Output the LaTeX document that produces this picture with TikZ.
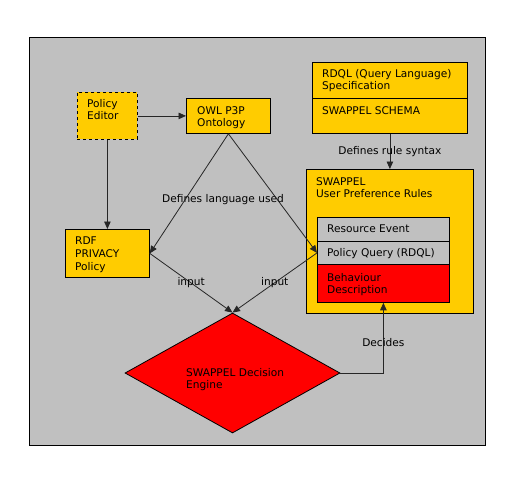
\documentclass[tikz,border=0pt]{standalone}
\usepackage{fontspec}
\setmainfont{DejaVu Sans}
\usepackage{tikz}
\usetikzlibrary{arrows.meta,shapes.geometric}
\definecolor{bggray}{HTML}{C0C0C0}
\definecolor{gold}{HTML}{FFCC00}
\definecolor{hot}{HTML}{FF0000}

\begin{document}
\begin{tikzpicture}
[x=1pt,y=-1pt
,bx/.style={draw,fill=gold,anchor=north west,inner sep=0pt,line width=0.8pt}
,rbx/.style={bx,fill=hot}
,gbx/.style={bx,fill=bggray}
,txt/.style={anchor=north west,inner sep=0pt,align=left,font=\fontsize{10.6}{12.7}\selectfont}
,lbl/.style={inner sep=1pt,font=\fontsize{10.6}{12}\selectfont}
,ar/.style={draw=black!85,line width=0.8pt,arrows={-Triangle[length=7.5pt,width=6.5pt]}}
]
\useasboundingbox (0,0) rectangle (520,480);
\fill[bggray,draw=black,line width=0.8pt] (29,37) rectangle (485,445);
% boxes
\node[bx,dashed,minimum width=60,minimum height=47] (editor) at (77,92) {};
\node[bx,minimum width=84,minimum height=35] (owl) at (186,98) {};
\node[bx,minimum width=155,minimum height=36] (rdql) at (312,62) {};
\node[bx,minimum width=155,minimum height=35] (schema) at (312,98) {};
\node[bx,minimum width=167,minimum height=144] (rules) at (306,169) {};
\node[gbx,minimum width=132,minimum height=24] (event) at (317,217) {};
\node[gbx,minimum width=132,minimum height=23] (query) at (317,241) {};
\node[rbx,minimum width=132,minimum height=38] (behaviour) at (317,264) {};
\node[bx,minimum width=84,minimum height=48] (rdf) at (65,229) {};
\node[diamond,draw,fill=hot,line width=0.8pt,inner sep=0pt,minimum width=215,minimum height=120] (engine) at (232.5,373) {};
% texts
\node[txt] at (87,99) {Policy\\Editor};
\node[txt] at (197,106) {OWL P3P\\Ontology};
\node[txt] at (322,69) {RDQL (Query Language)\\Specification};
\node[txt] at (322,106) {SWAPPEL SCHEMA};
\node[txt] at (316,177) {SWAPPEL\\User Preference Rules};
\node[txt] at (327,225) {Resource Event};
\node[txt] at (327,248) {Policy Query (RDQL)};
\node[txt] at (327,273) {Behaviour\\Description};
\node[txt] at (75,237) {RDF\\PRIVACY\\Policy};
\node[txt] at (186,368) {SWAPPEL Decision\\Engine};
\node[lbl] (deflang) at (223,200) {Defines language used};
% connectors
\draw[ar] (editor) -- (owl);
\draw[ar] (editor) -- (rdf);
\draw[ar] (owl.south) -- (rdf.east);
\draw[ar] (owl.south) -- (query.west);
\draw[ar] (rdf.east) -- node[lbl]{input} (engine.north);
\draw[ar] (query.west) -- node[lbl]{input} (engine.north);
\draw[ar] (schema.south) -- node[lbl]{Defines rule syntax} (rules.north);
\draw[ar] (engine.east) -| node[lbl,pos=0.72]{Decides} (behaviour.south);
\end{tikzpicture}
\end{document}
